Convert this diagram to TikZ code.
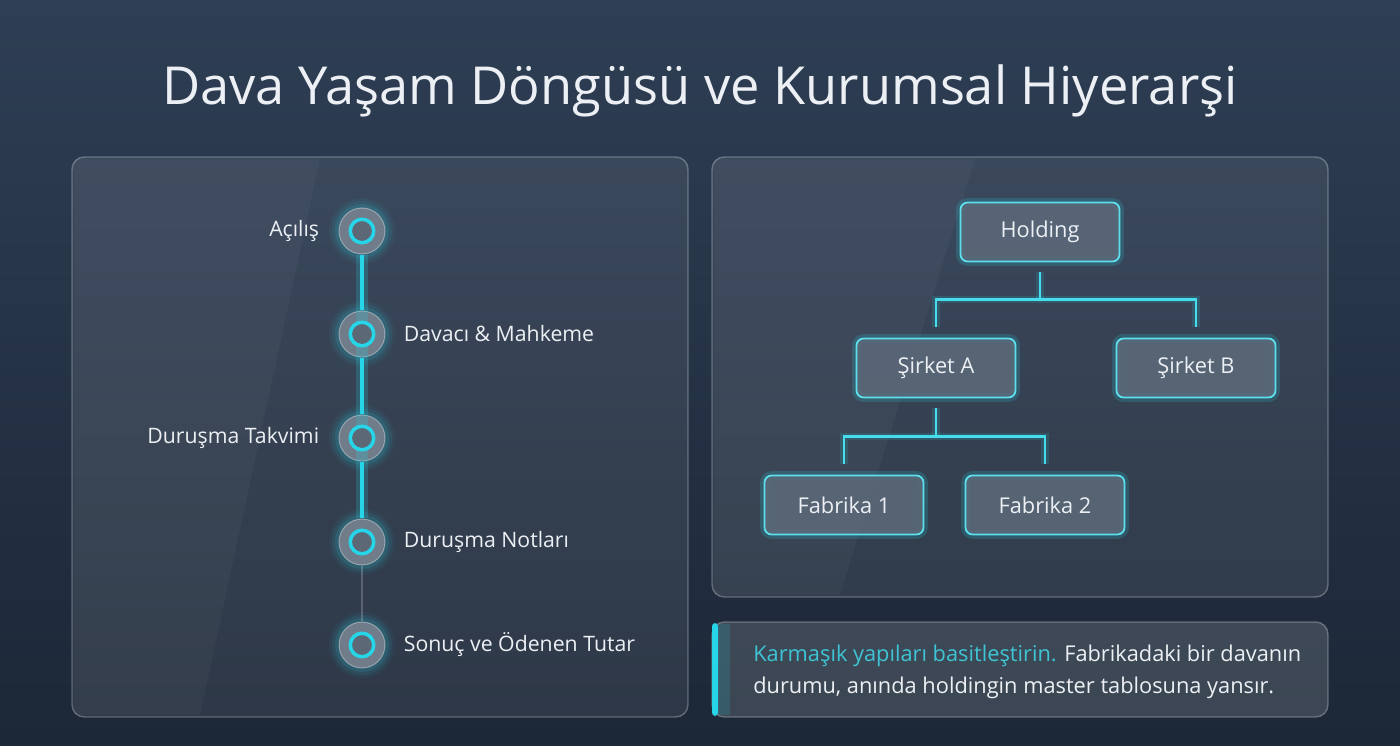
\documentclass[tikz,border=0pt]{standalone}
\usepackage{fontspec}
\setmainfont{Open Sans}
\usetikzlibrary{positioning, calc}
\definecolor{bgtop}{RGB}{46,62,84}
\definecolor{bgbot}{RGB}{28,39,55}
\definecolor{glowcyan}{RGB}{38,214,232}
\definecolor{softcyan}{RGB}{62,196,212}
\definecolor{textlight}{RGB}{236,240,244}
\definecolor{boxfill}{RGB}{92,106,122}
\definecolor{dotfill}{RGB}{112,124,138}
\definecolor{dotinner}{RGB}{92,104,118}

\begin{document}
\begin{tikzpicture}[x=0.02cm, y=-0.02cm,
    panel/.style={rounded corners=7pt, fill=white, fill opacity=0.08, draw=white, draw opacity=0.28, line width=0.8pt},
    orgbox/.style={rectangle, rounded corners=4pt, minimum width=3.18cm, minimum height=1.18cm, fill=boxfill, fill opacity=0.85, text opacity=1, draw=glowcyan!75!white, line width=1pt, text=textlight, font=\fontsize{12.4}{15}\selectfont, preaction={draw=glowcyan, draw opacity=0.18, line width=5pt}},
    conn/.style={draw=glowcyan!85!white, line width=1.3pt, preaction={draw=glowcyan, draw opacity=0.15, line width=4pt}},
    dot/.style={circle, minimum size=0.92cm, inner sep=0pt, fill=dotfill, draw=white, draw opacity=0.35, line width=0.6pt},
    ring/.style={draw=glowcyan, line width=2pt, fill=dotinner},
    lbl/.style={inner sep=0pt, text=textlight, font=\fontsize{12.1}{15}\selectfont}
]
    % === ARKA PLAN ===
    \shade[top color=bgtop, bottom color=bgbot] (0,0) rectangle (1400,746);
    \useasboundingbox (0,0) rectangle (1400,746);

    % === BAŞLIK ===
    \node[text=textlight, font=\fontsize{29.8}{36}\selectfont] (title) at (700,91) {Dava Yaşam Döngüsü ve Kurumsal Hiyerarşi};

    % === PANELLER ===
    \draw[panel] (72,157) rectangle (688,717);
    \draw[panel] (712,157) rectangle (1328,597);
    \fill[white, opacity=0.03] (74,159) -- (320,159) -- (200,715) -- (74,715) -- cycle;
    \fill[white, opacity=0.03] (714,159) -- (975,159) -- (840,595) -- (714,595) -- cycle;

    % === ZAMAN ÇİZELGESİ ===
    \foreach \yy in {231,334,438,542,645} {
        \foreach \r/\o in {0.66/0.05, 0.6/0.08, 0.54/0.12} {
            \fill[glowcyan, opacity=\o] (362,\yy) circle[radius=\r cm];
        }
    }
    \node[dot] (acilis) at (362,231) {};
    \node[dot] (davaci) at (362,334) {};
    \node[dot] (takvim) at (362,438) {};
    \node[dot] (notlar) at (362,542) {};
    \node[dot] (sonuc)  at (362,645) {};

    \draw[glowcyan, line width=7pt, opacity=0.2] (acilis) -- (notlar);
    \draw[glowcyan, line width=2.8pt] (acilis) -- (davaci);
    \draw[glowcyan, line width=2.8pt] (davaci) -- (takvim);
    \draw[glowcyan, line width=2.8pt] (takvim) -- (notlar);
    \draw[white, opacity=0.2, line width=0.6pt] (notlar) -- (sonuc);

    \foreach \n in {acilis, davaci, takvim, notlar, sonuc} {
        \draw[ring] (\n.center) circle[radius=0.235cm];
    }

    \node[lbl, left=0.38cm of acilis]  {Açılış};
    \node[lbl, right=0.36cm of davaci] {Davacı \& Mahkeme};
    \node[lbl, left=0.38cm of takvim]  {Duruşma Takvimi};
    \node[lbl, right=0.36cm of notlar] {Duruşma Notları};
    \node[lbl, right=0.36cm of sonuc]  {Sonuç ve Ödenen Tutar};

    % === ORGANİZASYON ŞEMASI ===
    \node[orgbox] (hold) at (1040,232) {Holding};
    \node[orgbox] (sirA) at (936,368)  {Şirket A};
    \node[orgbox] (sirB) at (1196,368) {Şirket B};
    \node[orgbox] (fab1) at (844,505)  {Fabrika 1};
    \node[orgbox] (fab2) at (1045,505) {Fabrika 2};

    \coordinate (hsplit) at ($(hold.south)+(0,37)$);
    \coordinate (asplit) at ($(sirA.south)+(0,38)$);
    \draw[conn] ($(hold.south)+(0,10)$) -- (hsplit);
    \draw[conn] (hsplit) -| ($(sirA.north)+(0,-11)$);
    \draw[conn] (hsplit) -| ($(sirB.north)+(0,-11)$);
    \draw[conn] ($(sirA.south)+(0,10)$) -- (asplit);
    \draw[conn] (asplit) -| ($(fab1.north)+(0,-11)$);
    \draw[conn] (asplit) -| ($(fab2.north)+(0,-11)$);

    % === NOT KUTUSU ===
    \draw[panel, fill opacity=0.14] (712,622) rectangle (1328,717);
    \fill[glowcyan, opacity=0.15] (712,624) rectangle (730,715);
    \fill[glowcyan, rounded corners=2pt] (712,623) rectangle (718,716);
    \node[lbl, anchor=west, align=left, font=\fontsize{12.4}{18.5}\selectfont] (note) at (753,672)
        {\textcolor{softcyan}{Karmaşık yapıları basitleştirin.} Fabrikadaki bir davanın\\
         durumu, anında holdingin master tablosuna yansır.};
\end{tikzpicture}
\end{document}
